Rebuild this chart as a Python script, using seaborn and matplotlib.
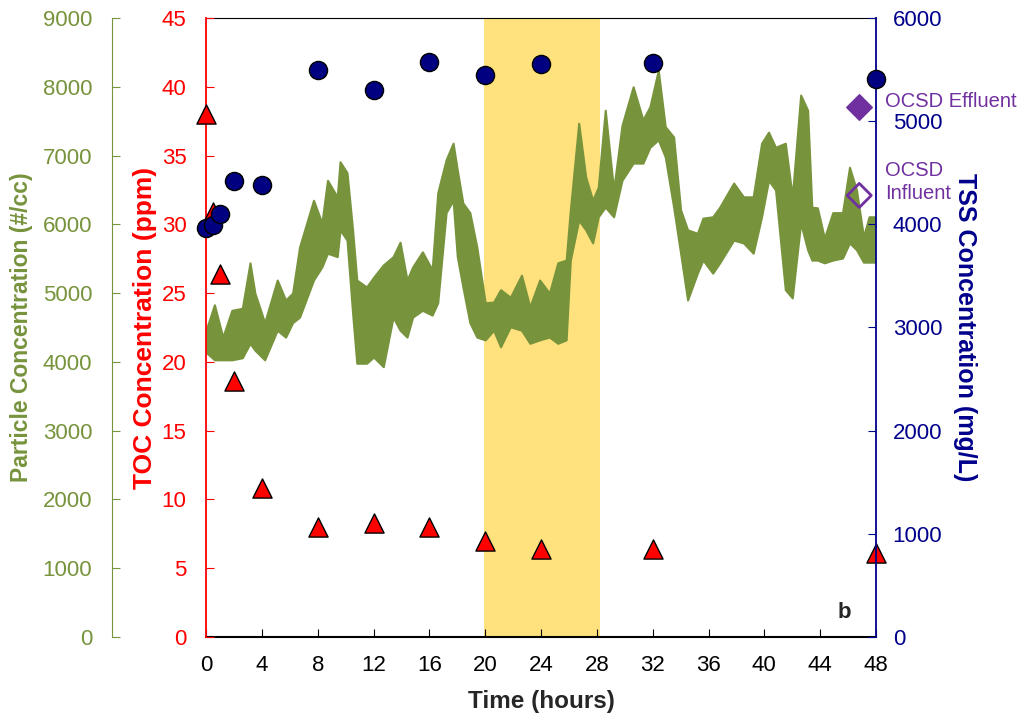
import matplotlib
matplotlib.use('Agg')
import matplotlib.pyplot as plt
import seaborn as sns

sns.set_style('white')
plt.rcParams['font.family'] = ['Liberation Sans', 'DejaVu Sans']

# particle counter trace, read as upper / lower edge of the noisy band
p_time = [0.0, 0.6, 1.2, 1.85, 2.6, 3.15, 3.5, 4.2, 5.1, 5.7, 6.2, 6.7, 7.7, 8.3,
          8.7, 9.4, 9.6, 10.1, 10.5, 10.8, 11.5, 12.0, 12.7, 13.4, 13.9, 14.4, 14.8,
          15.5, 16.2, 16.6, 17.2, 17.7, 18.0, 18.4, 18.9, 19.4, 20.0, 20.6, 21.1,
          21.8, 22.6, 23.2, 23.9, 24.6, 25.2, 25.8, 26.1, 26.7, 27.2, 27.7, 28.1,
          28.6, 29.2, 29.8, 30.6, 31.3, 31.8, 32.4, 32.9, 33.5, 34.0, 34.5, 35.2,
          35.6, 36.3, 36.8, 37.8, 38.5, 39.2, 39.8, 40.3, 40.8, 41.5, 42.0, 42.6,
          43.1, 43.4, 43.8, 44.3, 44.9, 45.6, 46.1, 46.6, 47.1, 47.5, 47.9]
p_high = [4460, 4830, 4360, 4750, 4780, 5440, 5000, 4570, 5190, 4900, 5000, 5670, 6350, 6020,
          6640, 6400, 6910, 6750, 5920, 5190, 5090, 5230, 5410, 5530, 5740, 5190, 5380,
          5600, 5340, 6460, 6940, 7180, 6790, 6310, 6170, 5670, 4860, 4870, 5050,
          4940, 5260, 4800, 5190, 5000, 5440, 5480, 6210, 7470, 6690, 6350, 6540,
          7660, 6500, 7440, 8000, 7520, 7710, 8240, 7420, 7270, 6210, 5920, 5870,
          6090, 6110, 6250, 6600, 6400, 6400, 7180, 7340, 7120, 7180, 6400, 7880,
          7660, 6250, 6240, 5800, 6170, 6170, 6830, 6500, 5820, 6110, 6110]
p_low = [4140, 4030, 4030, 4030, 4060, 4270, 4170, 4030, 4460, 4360, 4570, 4650, 5190, 5380,
         5580, 5530, 5920, 5770, 4710, 3980, 3980, 4070, 3930, 4650, 4460, 4360, 4650,
         4750, 4680, 4860, 6170, 6350, 5530, 5090, 4570, 4360, 4320, 4460, 4220,
         4510, 4460, 4270, 4320, 4360, 4270, 4320, 5480, 6060, 5920, 5730, 6110,
         6250, 6110, 6640, 6890, 6890, 7120, 7230, 6980, 6250, 5580, 4900, 5290,
         5480, 5290, 5440, 5770, 5730, 5580, 6110, 6640, 6500, 5050, 4930, 6020,
         5630, 5480, 5480, 5440, 5480, 5510, 5730, 5630, 5450, 5450, 5450]

toc_time = [0, 0.5, 1, 2, 4, 8, 12, 16, 20, 24, 32, 48]
toc_ppm = [38.0, 30.9, 26.4, 18.6, 10.8, 8.0, 8.3, 8.0, 7.0, 6.4, 6.4, 6.1]

tss_time = [0, 0.5, 1, 2, 4, 8, 12, 16, 20, 24, 32, 48]
tss_mgl = [3960, 3990, 4100, 4420, 4380, 5500, 5300, 5570, 5450, 5550, 5560, 5410]

ocsd_labels = ['OCSD Effluent', 'OCSD\nInfluent']
ocsd_time = [46.8, 46.8]
ocsd_tss = [5140, 4280]
ocsd_label_tss = [5195, 4410]

shade_start, shade_end = 19.9, 28.2

green = '#77933C'
red = '#FF0000'
navy = '#00008B'
purple = '#7030A0'

fig = plt.figure(figsize=(10.21, 7.2), dpi=100)
ax_p = fig.add_axes([0.2018, 0.1153, 0.6562, 0.8597])
ax_toc = ax_p.twinx()
ax_tss = ax_p.twinx()

# shaded period and particle trace on the base axes
ax_p.axvspan(shade_start, shade_end, color='#FFE17D', lw=0, zorder=0)
ax_p.fill_between(p_time, p_low, p_high, color=green, lw=1.5, edgecolor=green, zorder=2)

sns.scatterplot(x=toc_time, y=toc_ppm, ax=ax_toc, marker='^', s=190, color=red,
                edgecolor='black', linewidth=1, clip_on=False, zorder=5)
sns.scatterplot(x=tss_time, y=tss_mgl, ax=ax_tss, marker='o', s=170, color='#000080',
                edgecolor='black', linewidth=1, clip_on=False, zorder=6)
sns.scatterplot(x=ocsd_time[:1], y=ocsd_tss[:1], ax=ax_tss, marker='D', s=170,
                color=purple, edgecolor=purple, linewidth=1, clip_on=False, zorder=6)
ax_tss.scatter(ocsd_time[1:], ocsd_tss[1:], marker='D', s=150, facecolors='none',
               edgecolors=purple, linewidths=2, clip_on=False, zorder=6)
for lab, yv in zip(ocsd_labels, ocsd_label_tss):
    ax_tss.text(48.65, yv, lab, color=purple, fontsize=14.5, ha='left', va='center',
                linespacing=1.25, clip_on=False)

# particle axis (outer left)
ax_p.set_xlim(0, 48)
ax_p.set_ylim(0, 9000)
ax_p.set_xticks(range(0, 49, 4))
ax_p.set_yticks(range(0, 9001, 1000))
ax_p.spines['left'].set_position(('axes', -0.141))
ax_p.spines['left'].set_color(green)
ax_p.spines['right'].set_visible(False)
ax_p.spines['top'].set_color('black')
ax_p.spines['bottom'].set_color('black')
ax_p.spines['bottom'].set_linewidth(1.5)
ax_p.tick_params(axis='y', direction='in', length=6, colors=green, labelsize=16, pad=14, left=True)
ax_p.tick_params(axis='x', direction='in', length=6, colors='black', labelsize=16, pad=13, bottom=True)
ax_p.set_ylabel('Particle Concentration (#/cc)', color=green, fontsize=16.5, fontweight='bold', va='center')
ax_p.yaxis.set_label_coords(-0.275, 0.5)
ax_p.set_xlabel('Time (hours)', fontsize=17.5, fontweight='bold', va='center')
ax_p.xaxis.set_label_coords(0.5, -0.105)

# TOC axis (inner left)
ax_toc.set_ylim(0, 45)
ax_toc.set_yticks(range(0, 46, 5))
ax_toc.yaxis.set_ticks_position('left')
ax_toc.yaxis.set_label_position('left')
for side in ['right', 'top', 'bottom']:
    ax_toc.spines[side].set_visible(False)
ax_toc.spines['left'].set_visible(True)
ax_toc.spines['left'].set_color(red)
ax_toc.spines['left'].set_linewidth(1.3)
ax_toc.tick_params(axis='y', direction='in', length=6, colors=red, labelsize=16, pad=14)
ax_toc.set_ylabel('TOC Concentration (ppm)', color=red, fontsize=19, fontweight='bold', va='center')
ax_toc.yaxis.set_label_coords(-0.091, 0.5)

# TSS axis (right)
ax_tss.set_ylim(0, 6000)
ax_tss.set_yticks(range(0, 6001, 1000))
for side in ['left', 'top', 'bottom']:
    ax_tss.spines[side].set_visible(False)
ax_tss.spines['right'].set_color(navy)
ax_tss.spines['right'].set_linewidth(1.3)
ax_tss.tick_params(axis='y', direction='in', length=6, colors=navy, labelsize=16, pad=12)
ax_tss.set_ylabel('TSS Concentration (mg/L)', color=navy, fontsize=18, fontweight='bold',
                  rotation=270, va='center')
ax_tss.yaxis.set_label_coords(1.133, 0.5)

ax_tss.text(0.953, 0.04, 'b', transform=ax_tss.transAxes, fontsize=16, fontweight='bold',
            ha='center', va='center')

fig.savefig('out.png', dpi=100)
